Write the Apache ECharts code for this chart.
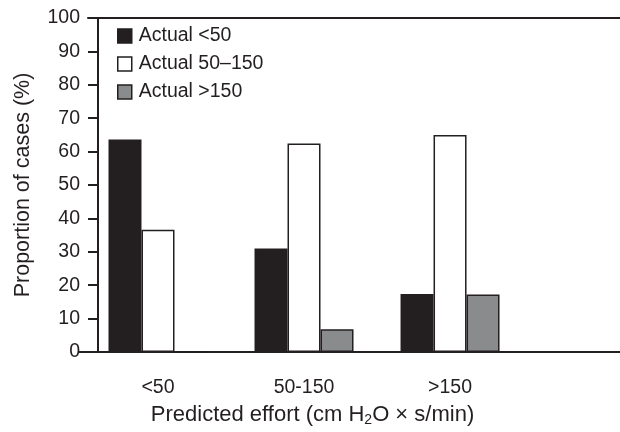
<!DOCTYPE html>
<html>
<head>
<meta charset="utf-8">
<script src="https://cdn.jsdelivr.net/npm/echarts@6/dist/echarts.min.js"></script>
<style>
  html, body { margin: 0; padding: 0; background: #fff; }
  #chart { width: 620px; height: 432px; }
</style>
</head>
<body>
<div id="chart"></div>
<script>
const categories = ['<50', '50-150', '>150']
const actualLow = [63.6, 31.0, 17.4]
const actualMid = [36.6, 62.4, 65.0]
const actualHigh = [0, 6.8, 17.2]
const yTicks = [0, 10, 20, 30, 40, 50, 60, 70, 80, 90, 100]

const ink = '#231f20'
const font = 'Liberation Sans'

// bars sit on a value axis so the axis line can run past the groups
function toPoints(values) {
  return values.map((v, i) => [i, v])
}

function barSeries(name, values, color) {
  return {
    name,
    type: 'bar',
    data: toPoints(values),
    barWidth: 33,
    barGap: '0%',
    itemStyle: { color, borderColor: ink, borderWidth: 1.5 }
  }
}

let chart = echarts.init(document.getElementById('chart'))
chart.setOption({
  animation: false,
  textStyle: { fontFamily: font, color: ink },
  grid: [
    { left: 79, right: 0, top: 18, bottom: 74.5 },
    { left: 88, right: 0, top: 18, height: 10 }
  ],
  legend: {
    orient: 'vertical',
    left: 117,
    top: 26,
    padding: 0,
    itemWidth: 14,
    itemHeight: 14,
    itemGap: 8,
    itemStyle: { borderWidth: 1.5, borderColor: ink },
    icon: 'rect',
    textStyle: { fontSize: 19.5, lineHeight: 20, color: ink, fontFamily: font, padding: [0, 0, 0, 2] },
    data: ['Actual <50', 'Actual 50\u2013150', 'Actual >150']
  },
  xAxis: [
    {
      type: 'value',
      min: -0.541,
      max: 3.164,
      splitLine: { show: false },
      axisLine: { show: true, onZero: false, lineStyle: { color: ink, width: 2 } },
      axisTick: { show: false },
      axisLabel: {
        customValues: [0, 1, 2],
        formatter: v => categories[Math.round(v)],
        fontSize: 19.5,
        color: ink,
        margin: 26
      },
      name: 'Predicted effort (cm H{sub|2}O \u00d7 s/min)',
      nameLocation: 'middle',
      nameGap: 51,
      nameTextStyle: {
        fontSize: 22,
        color: ink,
        padding: [0, 74, 0, 0],
        rich: { sub: { fontSize: 14, padding: [10, 0, 0, 0], color: ink } }
      }
    },
    {
      type: 'value',
      gridIndex: 1,
      position: 'top',
      min: 0,
      max: 1,
      splitLine: { show: false },
      axisLine: { show: true, onZero: false, lineStyle: { color: ink, width: 2 } },
      axisTick: { show: false },
      axisLabel: { show: false }
    }
  ],
  yAxis: [
    {
      type: 'value',
      min: 0,
      max: 100,
      interval: 10,
      offset: -19,
      splitLine: { show: false },
      axisLine: { show: true, onZero: false, lineStyle: { color: ink, width: 2 } },
      axisTick: { show: true, length: 10, lineStyle: { color: ink, width: 2 } },
      axisLabel: {
        fontSize: 19.5,
        color: ink,
        margin: 18,
        formatter: v => (yTicks.includes(v) ? String(v) : '')
      },
      name: 'Proportion of cases (%)',
      nameLocation: 'middle',
      nameGap: 64,
      nameTextStyle: { fontSize: 21.5, color: ink }
    },
    { type: 'value', gridIndex: 1, min: 0, max: 1, show: false }
  ],
  series: [
    barSeries('Actual <50', actualLow, ink),
    barSeries('Actual 50\u2013150', actualMid, '#ffffff'),
    barSeries('Actual >150', actualHigh, '#8a8b8d')
  ]
})
</script>
</body>
</html>
